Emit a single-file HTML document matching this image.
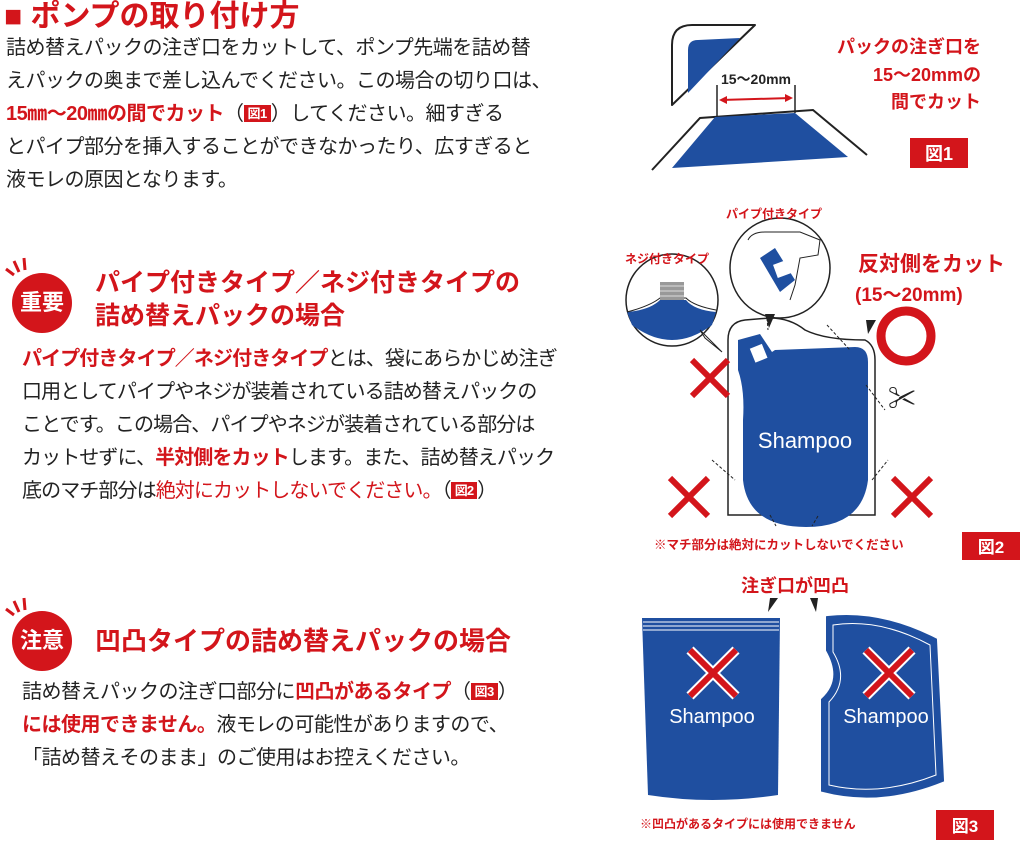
<!DOCTYPE html>
<html><head><meta charset="utf-8"><style>
html,body{margin:0;padding:0;background:#fff;}
body{width:1024px;height:847px;position:relative;overflow:hidden;font-family:"Liberation Sans","Noto Sans CJK JP",sans-serif;color:#222;}
.a{position:absolute;white-space:nowrap;}
.t{font-size:20px;line-height:33px;letter-spacing:-0.5px;}
.r{color:#d3151b;font-weight:bold;}
.rr{color:#d3151b;}
.h{color:#d3151b;font-weight:bold;font-size:25px;line-height:33px;}
.fig{display:inline-block;background:#d3151b;color:#fff;font-size:13px;font-weight:bold;line-height:17px;padding:0 4px;vertical-align:2px;}
.badge{position:absolute;width:60px;height:60px;border-radius:50%;background:#d3151b;color:#fff;font-weight:bold;font-size:22px;line-height:60px;text-align:center;}
</style></head><body>
<div class="a" style="left:4px;top:-2px;font-size:30px;line-height:38px;font-weight:bold;color:#d3151b;">■ ポンプの取り付け方</div>
<div class="a t" style="left:6px;top:32px;">詰め替えパックの注ぎ口をカットして、ポンプ先端を詰め替<br>えパックの奥まで差し込んでください。この場合の切り口は、<br><span class="r">15㎜～20㎜の間でカット</span>（<span class="fig">図1</span>）してください。細すぎる<br>とパイプ部分を挿入することができなかったり、広すぎると<br>液モレの原因となります。</div>

<svg class="a" style="left:0;top:255px" width="40" height="25"><g stroke="#d3151b" stroke-width="3"><line x1="6" y1="14" x2="14" y2="20"/><line x1="14" y1="6" x2="19" y2="17"/><line x1="24" y1="3" x2="25" y2="15"/></g></svg>
<div class="badge" style="left:12px;top:273px;">重要</div>
<div class="a h" style="left:95px;top:267px;">パイプ付きタイプ／ネジ付きタイプの<br>詰め替えパックの場合</div>
<div class="a t" style="left:22px;top:343px;letter-spacing:-0.9px;"><span class="r">パイプ付きタイプ／ネジ付きタイプ</span>とは、袋にあらかじめ注ぎ<br>口用としてパイプやネジが装着されている詰め替えパックの<br>ことです。この場合、パイプやネジが装着されている部分は<br>カットせずに、<span class="r">半対側をカット</span>します。また、詰め替えパック<br>底のマチ部分は<span class="rr">絶対にカットしないでください。</span>（<span class="fig">図2</span>）</div>

<svg class="a" style="left:0;top:595px" width="40" height="25"><g stroke="#d3151b" stroke-width="3"><line x1="6" y1="14" x2="14" y2="20"/><line x1="14" y1="6" x2="19" y2="17"/><line x1="24" y1="3" x2="25" y2="15"/></g></svg>
<div class="badge" style="left:12px;top:611px;">注意</div>
<div class="a h" style="left:95px;top:625px;font-size:26px;">凹凸タイプの詰め替えパックの場合</div>
<div class="a t" style="left:22px;top:676px;">詰め替えパックの注ぎ口部分に<span class="r">凹凸があるタイプ</span>（<span class="fig">図3</span>）<br><span class="r">には使用できません。</span>液モレの可能性がありますので、<br>「詰め替えそのまま」のご使用はお控えください。</div>

<svg class="a" style="left:0;top:0" width="1024" height="847" font-family="Liberation Sans,Noto Sans CJK JP,sans-serif">
<!-- fig1 -->
<path d="M672,105 L672,45 Q672,25 692,25 L755,25 Z" fill="#fff" stroke="#222" stroke-width="2" stroke-linejoin="round"/>
<path d="M688,93 L688,50 Q688,40 698,40 L740,38 Z" fill="#1f4fa0"/>
<path d="M652,170 L700,118 L813,110 L867,155" fill="none" stroke="#222" stroke-width="2"/>
<path d="M672,168 L715,117 L795,113 L848,157 Z" fill="#1f4fa0"/>
<line x1="717" y1="85" x2="717" y2="116" stroke="#222" stroke-width="1.5"/>
<line x1="795" y1="85" x2="795" y2="113" stroke="#222" stroke-width="1.5"/>
<line x1="721" y1="100" x2="791" y2="98" stroke="#d3151b" stroke-width="2"/>
<path d="M719,100 l8,-4 v8z M793,98 l-8,-4 v8z" fill="#d3151b"/>
<text x="756" y="84" font-size="14" font-weight="bold" text-anchor="middle" fill="#222">15～20mm</text>
<g fill="#d3151b" font-weight="bold" font-size="18" text-anchor="end">
<text x="981" y="53">パックの注ぎ口を</text><text x="981" y="81">15～20mmの</text><text x="981" y="108">間でカット</text></g>
<rect x="910" y="138" width="58" height="30" fill="#d3151b"/><text x="939" y="160" font-size="18" font-weight="bold" fill="#fff" text-anchor="middle">図1</text>

<!-- fig2 -->
<path d="M728,340 Q728,322 745,320 L770,318 Q790,318 805,330 Q825,340 865,340 Q875,345 875,360 L875,515 L728,515 Z" fill="#fff" stroke="#222" stroke-width="1.5"/>
<path d="M738,340 L760,334 L772,352 L775,350 L855,347 Q868,347 868,362 L868,480 Q862,527 806,527 Q748,527 743,480 L743,420 Q745,390 738,370 Z" fill="#1f4fa0"/>
<rect x="752" y="346" width="13" height="15" fill="#fff" transform="rotate(-22 758 353)"/>
<g stroke="#222" stroke-width="1" stroke-dasharray="3,2"><line x1="767" y1="318" x2="768" y2="330"/><line x1="827" y1="325" x2="850" y2="350"/><line x1="866" y1="385" x2="885" y2="410"/><line x1="712" y1="460" x2="735" y2="480"/><line x1="872" y1="480" x2="888" y2="460"/><line x1="770" y1="515" x2="776" y2="526"/><line x1="818" y1="516" x2="812" y2="526"/></g>
<text x="805" y="448" font-size="22" fill="#fff" text-anchor="middle">Shampoo</text>
<circle cx="672" cy="300" r="46" fill="#fff" stroke="#222" stroke-width="1.5"/>
<path d="M627,312 Q650,310 660,300 L686,300 Q694,310 716,312 L712,325 Q672,355 632,325 Z" fill="#1f4fa0"/>
<path d="M627,312 Q650,306 660,298 L686,298 Q694,306 716,310" fill="none" stroke="#222"/>
<rect x="660" y="282" width="24" height="18" fill="#999"/>
<g stroke="#ddd" stroke-width="1"><line x1="660" y1="286" x2="684" y2="286"/><line x1="660" y1="291" x2="684" y2="291"/><line x1="660" y1="296" x2="684" y2="296"/></g>
<path d="M700,330 L722,352 L705,338 Z" fill="#fff" stroke="#222"/>
<circle cx="780" cy="268" r="50" fill="#fff" stroke="#222" stroke-width="1.5"/>
<path d="M748,240 Q752,232 765,232 L800,232 L820,240 L818,255 L800,258 L795,285 L790,300" fill="none" stroke="#222"/>
<path d="M760,258 L775,248 L795,280 L780,292 Z" fill="#1f4fa0"/>
<rect x="775" y="262" width="14" height="14" fill="#fff" transform="rotate(-20 782 269)"/>
<path d="M765,314 l10,0 l-6,14z" fill="#222"/>
<path d="M866,320 l10,0 l-8,14z" fill="#222"/>
<g fill="#d3151b" font-weight="bold"><text x="625" y="263" font-size="12">ネジ付きタイプ</text><text x="726" y="218" font-size="12">パイプ付きタイプ</text>
<text x="858" y="271" font-size="21">反対側をカット</text><text x="855" y="301" font-size="19">(15～20mm)</text>
<text x="654" y="549" font-size="12.5">※マチ部分は絶対にカットしないでください</text></g>
<circle cx="906" cy="336" r="25" fill="none" stroke="#d3151b" stroke-width="9"/>
<text x="888" y="408" font-size="28" fill="#222">✂</text>
<g stroke="#d3151b" stroke-width="6"><path d="M692,360 L728,396 M728,360 L692,396"/><path d="M670,478 L708,516 M708,478 L670,516"/><path d="M893,478 L931,516 M931,478 L893,516"/></g>
<rect x="962" y="532" width="58" height="28" fill="#d3151b"/><text x="991" y="553" font-size="17" font-weight="bold" fill="#fff" text-anchor="middle">図2</text>

<!-- fig3 -->
<text x="795" y="592" font-size="18" font-weight="bold" fill="#d3151b" text-anchor="middle">注ぎ口が凹凸</text>
<path d="M770,598 l8,0 l-10,14z M810,598 l8,0 l-2,14z" fill="#222"/>
<path d="M642,618 L780,618 L778,795 Q712,805 648,795 Z" fill="#1f4fa0"/>
<g stroke="#fff" stroke-width="1"><line x1="643" y1="622" x2="779" y2="622"/><line x1="643" y1="626" x2="779" y2="626"/><line x1="643" y1="630" x2="779" y2="630"/></g>
<path d="M828,618 Q880,612 935,640 L942,780 Q880,805 823,790 L823,700 Q845,680 828,650 Z" fill="#1f4fa0" stroke="#1f4fa0" stroke-width="4"/>
<path d="M833,625 Q880,618 930,645 L936,775 Q880,797 829,785 L829,702 Q850,680 833,652 Z" fill="none" stroke="#fff" stroke-width="1"/>
<g stroke="#fff" stroke-width="10"><path d="M690,650 L736,696 M736,650 L690,696"/><path d="M866,650 L912,696 M912,650 L866,696"/></g>
<g stroke="#d3151b" stroke-width="6"><path d="M690,650 L736,696 M736,650 L690,696"/><path d="M866,650 L912,696 M912,650 L866,696"/></g>
<text x="712" y="723" font-size="20" fill="#fff" text-anchor="middle">Shampoo</text>
<text x="886" y="723" font-size="20" fill="#fff" text-anchor="middle">Shampoo</text>
<text x="640" y="828" font-size="12" font-weight="bold" fill="#d3151b">※凹凸があるタイプには使用できません</text>
<rect x="936" y="810" width="58" height="30" fill="#d3151b"/><text x="965" y="832" font-size="17" font-weight="bold" fill="#fff" text-anchor="middle">図3</text>
</svg>
</body></html>
